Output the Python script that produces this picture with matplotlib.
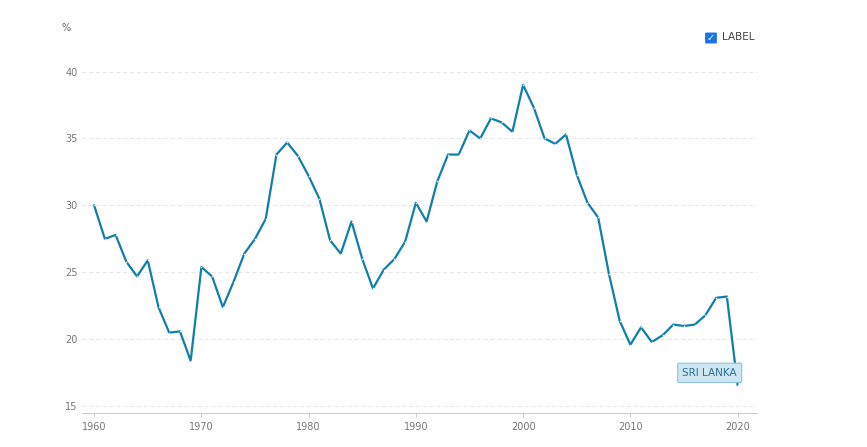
import matplotlib.pyplot as plt
from matplotlib.patches import FancyBboxPatch

years = list(range(1960, 2021))
values = [30.0, 27.5, 27.8, 25.8, 24.7, 25.9, 22.4, 20.5, 20.6, 18.4,
          25.4, 24.7, 22.4, 24.3, 26.4, 27.5, 29.0, 33.8, 34.7, 33.7,
          32.2, 30.5, 27.4, 26.4, 28.8, 26.0, 23.8, 25.2, 26.0, 27.3,
          30.2, 28.8, 31.8, 33.8, 33.8, 35.6, 35.0, 36.5, 36.2, 35.5,
          39.0, 37.3, 35.0, 34.6, 35.3, 32.3, 30.2, 29.1, 24.9, 21.4,
          19.6, 20.9, 19.8, 20.3, 21.1, 21.0, 21.1, 21.8, 23.1, 23.2,
          16.6]
yticks = [15, 20, 25, 30, 35, 40]
xticks = [1960, 1970, 1980, 1990, 2000, 2010, 2020]

color = '#0f7fab'
fig = plt.figure(figsize=(8.67, 4.47), dpi=100)
ax = fig.add_axes([0.095, 0.076, 0.778, 0.779])
ax.plot(years, values, color=color, lw=1.6, zorder=3)
ax.scatter(years, values, s=1.2, color='white', lw=0, zorder=4)
ax.set_xlim(1958.9, 2021.8)
ax.set_ylim(14.5, 40.5)
ax.set_yticks(yticks)
ax.set_xticks(xticks)
ax.grid(axis='y', color='#e6e6e6', ls=(0, (4, 3)), lw=0.7)
for s in ['top', 'right', 'left']:
    ax.spines[s].set_visible(False)
ax.spines['bottom'].set_color('#cccccc')
ax.tick_params(axis='y', length=0, labelsize=7, labelcolor='#777777')
ax.tick_params(axis='x', length=3, color='#cccccc', labelsize=7, labelcolor='#777777')

fig.text(62 / 867, 1 - 31 / 447, '%', fontsize=7, color='#666666')

# label box
ax.text(2017.4, 17.5, 'SRI LANKA', fontsize=7.5, color='#2a6f97', ha='center', va='center',
        bbox=dict(boxstyle='round,pad=0.45,rounding_size=0.15', fc='#cde6f2', ec='#8fc2da', lw=0.8),
        zorder=5)

# legend checkbox
fig.patches.append(FancyBboxPatch((706 / 867, 1 - 43 / 447), 10 / 867, 10 / 447,
                                  boxstyle='round,pad=0.001', fc='#1a73e8', ec='none',
                                  transform=fig.transFigure, figure=fig))
fig.text(711 / 867, 1 - 38 / 447, '✓', fontsize=7, color='white', ha='center', va='center',
         weight='bold')
fig.text(722 / 867, 1 - 37 / 447, 'LABEL', fontsize=7.5, color='#444444', va='center')

fig.savefig('out.png')
